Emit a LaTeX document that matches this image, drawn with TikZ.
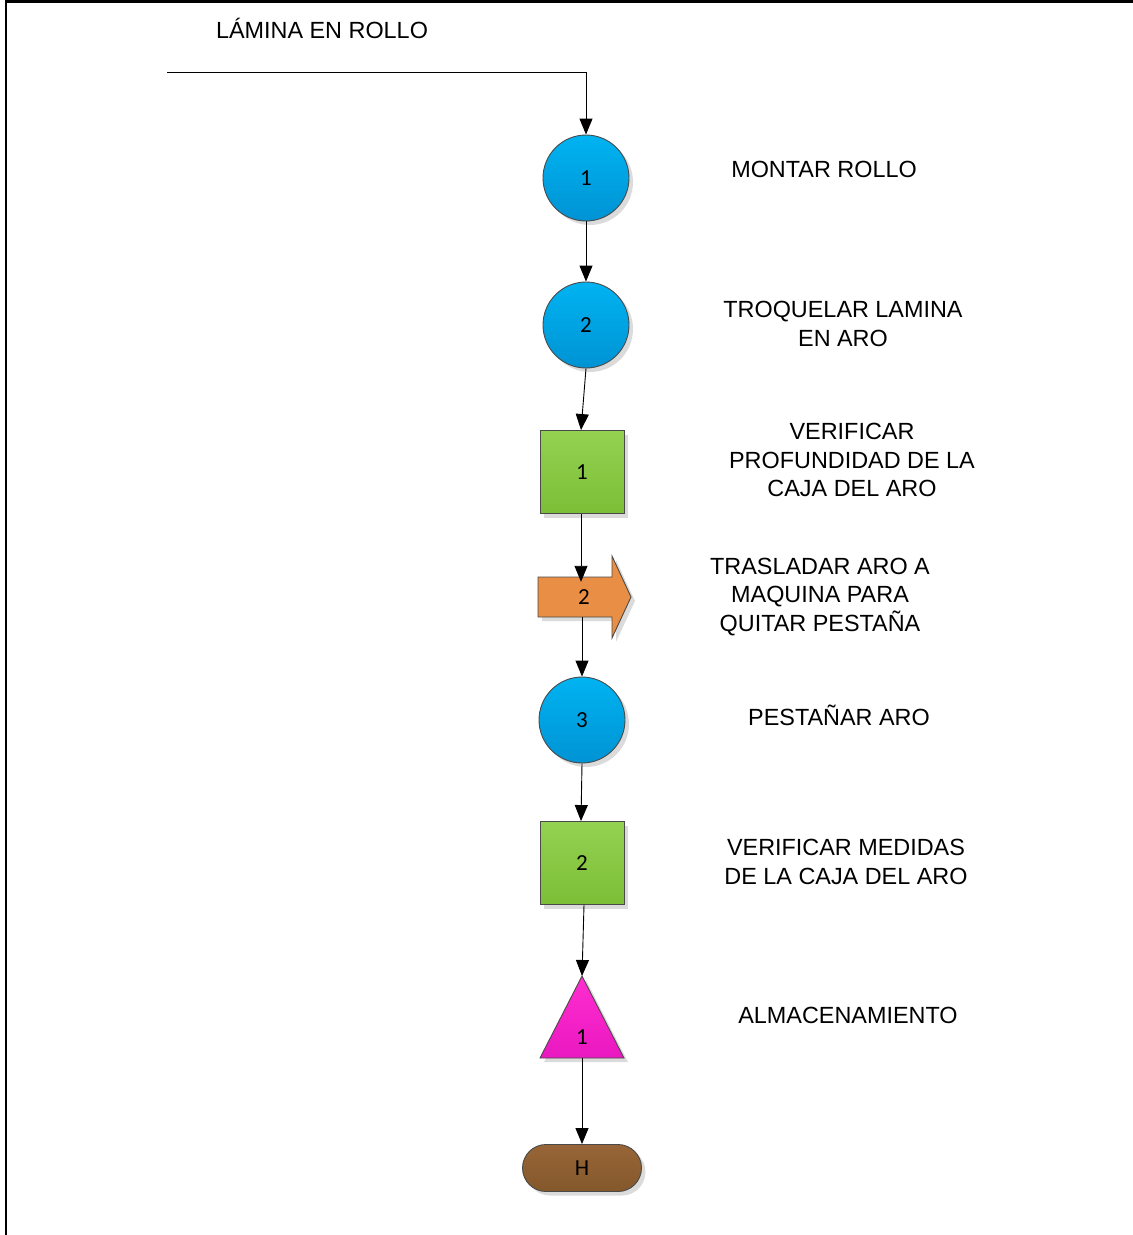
\documentclass[tikz,border=0pt]{standalone}
\usepackage{fontspec}
\setmainfont{Liberation Sans}
\newfontfamily\numfont{Carlito}
\usetikzlibrary{arrows.meta,shapes.misc,shadows}

\definecolor{opblueT}{HTML}{00B3F1}
\definecolor{opblueB}{HTML}{0093D4}
\definecolor{insgreenT}{HTML}{94D152}
\definecolor{insgreenB}{HTML}{7CBF36}
\definecolor{trorange}{HTML}{E98E45}
\definecolor{stmagT}{HTML}{FF2ED0}
\definecolor{stmagB}{HTML}{EA18C0}
\definecolor{endbrownT}{HTML}{976538}
\definecolor{endbrownB}{HTML}{84582B}
\definecolor{edgegray}{HTML}{4A4A4A}

\tikzset{
  numtext/.style={font=\numfont\fontsize{23}{26}\selectfont},
  shade/.style={drop shadow={shadow xshift=4pt, shadow yshift=-4pt, fill=black!14, opacity=1}},
  symbol/.style={draw=edgegray, line width=0.9pt, inner sep=0pt, shade, numtext},
  operation/.style={symbol, circle, minimum size=86pt, top color=opblueT, bottom color=opblueB},
  inspection/.style={symbol, rectangle, minimum width=84pt, minimum height=83pt,
    top color=insgreenT, bottom color=insgreenB},
  terminal/.style={symbol, rounded rectangle, minimum width=119pt, minimum height=47pt,
    top color=endbrownT, bottom color=endbrownB},
  steplabel/.style={align=center, font=\fontsize{23.4}{28.2}\selectfont},
  flow/.style={line width=0.9pt, black, -{Triangle[length=16pt,width=13pt]}},
}

\begin{document}
\begin{tikzpicture}[x=1pt, y=-1pt]
\useasboundingbox (0,0) rectangle (1133,1235);

% frame
\draw[line width=2.4pt] (6,1.5) -- (1133,1.5);
\draw[line width=2.2pt] (6,0) -- (6,1235);
\draw[line width=1pt] (262,0) -- (262,3);
\draw[line width=1pt] (906,0) -- (906,3);

% incoming material
\node[steplabel] (inlbl) at (322,28) {LÁMINA EN ROLLO};
\coordinate (in) at (167,72);
\coordinate (bend) at (586,72);

% process symbols
\node[operation] (o1) at (586,178) {1};
\node[operation] (o2) at (586,325) {2};
\node[inspection] (i1) at (582,472) {1};

% transport arrow
\path[draw=edgegray, line width=0.9pt, fill=trorange, shade]
  (538,577) -- (612,577) -- (612,556) -- (631,597) -- (612,638) -- (612,617) -- (538,617) -- cycle;
\node[inner sep=0pt, minimum width=74pt, minimum height=40pt, numtext] (t2) at (584,597) {2};

\node[operation] (o3) at (582,720) {3};
\node[inspection] (i2) at (582,863) {2};

% storage triangle
\path[draw=edgegray, line width=0.9pt, top color=stmagT, bottom color=stmagB, shade]
  (582,976) -- (624,1058) -- (540,1058) -- cycle;
\coordinate (s1n) at (582,976);
\coordinate (s1s) at (582,1058);
\node[numtext] (s1) at (582,1037) {1};

\node[terminal] (h) at (582,1168) {H};

% connectors
\draw[flow] (in) -- (bend) -- (o1.north);
\draw[flow] (o1.south) -- (o2.north);
\draw[flow] (o2.south) -- ([xshift=-1pt]i1.north);
\draw[flow] ([xshift=-1pt]i1.south) -- ([xshift=-3pt, yshift=-5pt]t2.north);
\draw[flow] ([xshift=-2pt]t2.south) -- (o3.north);
\draw[flow] (o3.south) -- ([xshift=-1pt]i2.north);
\draw[flow] ([xshift=2pt]i2.south) -- (s1n);
\draw[flow] (s1s) -- (h.north);

% step descriptions
\node[steplabel] (l1) at (824,169) {MONTAR ROLLO};
\node[steplabel] (l2) at (843,324) {TROQUELAR LAMINA\\EN ARO};
\node[steplabel] (l3) at (852,460) {VERIFICAR\\PROFUNDIDAD DE LA\\CAJA DEL ARO};
\node[steplabel] (l4) at (820,597) {TRASLADAR ARO A\\MAQUINA PARA\\QUITAR PESTAÑA};
\node[steplabel] (l5) at (839,715) {PESTAÑAR ARO};
\node[steplabel] (l6) at (846,862) {VERIFICAR MEDIDAS\\DE LA CAJA DEL ARO};
\node[steplabel] (l7) at (848,1015) {ALMACENAMIENTO};
\end{tikzpicture}
\end{document}
